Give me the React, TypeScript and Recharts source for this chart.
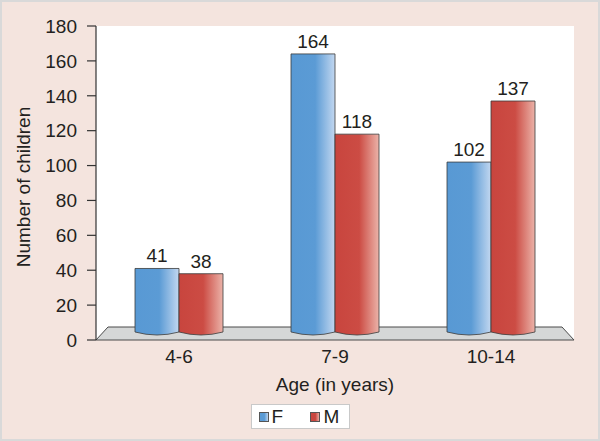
import React from "react";
import {
  Bar,
  BarChart,
  CartesianGrid,
  Customized,
  LabelList,
  Legend,
  XAxis,
  YAxis,
} from "recharts";

const ageGroups = ["4-6", "7-9", "10-14"];
const female = [41, 164, 102];
const male = [38, 118, 137];
const yTicks = [0, 20, 40, 60, 80, 100, 120, 140, 160, 180];

const data = ageGroups.map((age, i) => ({ age, F: female[i], M: male[i] }));

const FONT = '"Liberation Sans", Arial, Helvetica, sans-serif';
const FS = 19;
const INK = "#231f20";
const W = 596;
const H = 437;
const MARGIN = { top: 24, right: 24, left: 0, bottom: 39 };
const Y_W = 94;
const X_H = 60;
const PLOT_H = H - MARGIN.top - MARGIN.bottom - X_H;

// grey platform under the bars
function Floor() {
  const left = MARGIN.left + Y_W;
  const right = W - MARGIN.right;
  const bottom = MARGIN.top + PLOT_H;
  const top = bottom - 13;
  const pts = `${left},${bottom} ${left + 12},${top} ${right - 12},${top} ${right},${bottom}`;
  return <polygon points={pts} fill="#d5d7d7" stroke="#4a4a4a" strokeWidth={1} />;
}

function Cylinder(props: any) {
  const { x, y, width, height, fill } = props;
  if (!height) return null;
  const bottom = y + height - 8;
  const d = `M${x},${y} H${x + width} V${bottom} Q${x + width / 2},${bottom + 6} ${x},${bottom} Z`;
  return <path d={d} fill={fill} stroke="#3a3a3a" strokeWidth={0.8} />;
}

function YTitle() {
  const cx = 21;
  const cy = MARGIN.top + PLOT_H / 2 + 4;
  return (
    <text
      x={cx}
      y={cy}
      transform={`rotate(-90 ${cx} ${cy})`}
      textAnchor="middle"
      dominantBaseline="central"
      fontSize={FS}
      fontFamily={FONT}
      fill={INK}
    >
      Number of children
    </text>
  );
}

function LegendBox() {
  const sq = (c1: string, c2: string): React.CSSProperties => ({
    position: "absolute",
    top: 7,
    width: 10,
    height: 10,
    border: "1px solid #555",
    boxSizing: "border-box",
    background: `linear-gradient(to right, ${c1} 55%, ${c2})`,
  });
  const txt: React.CSSProperties = { position: "absolute", top: 2, fontSize: FS, lineHeight: "20px", color: INK };
  return (
    <div style={{ display: "flex", justifyContent: "center", fontFamily: FONT }}>
      <div
        style={{
          position: "relative",
          width: 99,
          height: 25,
          background: "#fff",
          border: "1px solid #c9c9c9",
          boxSizing: "border-box",
        }}
      >
        <div style={{ ...sq("#5a9bd5", "#bcd3ee"), left: 7 }} />
        <span style={{ ...txt, left: 20 }}>F</span>
        <div style={{ ...sq("#c9463f", "#e9aaa0"), left: 58 }} />
        <span style={{ ...txt, left: 72 }}>M</span>
      </div>
    </div>
  );
}

export default function App() {
  return (
    <div
      style={{
        position: "absolute",
        left: 0,
        top: 0,
        width: 600,
        height: 441,
        boxSizing: "border-box",
        border: "2px solid #d9d9d9",
        background: "#f4e4de",
        fontFamily: FONT,
      }}
    >
      <BarChart
        width={W}
        height={H}
        data={data}
        margin={MARGIN}
        barCategoryGap={34}
        barGap={0}
      >
        <defs>
          <linearGradient id="gradF" x1="0" y1="0" x2="1" y2="0">
            <stop offset="0%" stopColor="#5899d4" />
            <stop offset="55%" stopColor="#5b9bd5" />
            <stop offset="100%" stopColor="#c2d7f0" />
          </linearGradient>
          <linearGradient id="gradM" x1="0" y1="0" x2="1" y2="0">
            <stop offset="0%" stopColor="#c8453e" />
            <stop offset="55%" stopColor="#cc4c44" />
            <stop offset="100%" stopColor="#ebb3a9" />
          </linearGradient>
        </defs>
        <CartesianGrid fill="#ffffff" horizontal={false} vertical={false} stroke="none" />
        <Customized component={<Floor />} />
        <Customized component={<YTitle />} />
        <XAxis
          dataKey="age"
          height={X_H}
          padding={{ left: 5, right: 5 }}
          axisLine={false}
          tickLine={false}
          tickSize={0}
          tickMargin={10}
          tick={{ fontSize: FS, fill: INK, fontFamily: FONT }}
          label={{
            value: "Age (in years)",
            position: "insideTop",
            offset: 38,
            fontSize: FS,
            fill: INK,
            fontFamily: FONT,
          }}
        />
        <YAxis
          width={Y_W}
          domain={[0, 180]}
          ticks={yTicks}
          interval={0}
          axisLine={{ stroke: "#333", strokeWidth: 1.2 }}
          tickLine={{ stroke: "#333", strokeWidth: 1.2 }}
          tickSize={9}
          tickMargin={10}
          tick={{ fontSize: FS, fill: INK, fontFamily: FONT }}
        />
        <Legend
          layout="horizontal"
          verticalAlign="middle"
          align="center"
          wrapperStyle={{ top: 402, left: 0, width: W, height: 25 }}
          content={() => <LegendBox />}
        />
        <Bar dataKey="F" fill="url(#gradF)" shape={<Cylinder />} isAnimationActive={false}>
          <LabelList dataKey="F" position="top" offset={6} fontSize={FS} fill={INK} fontFamily={FONT} />
        </Bar>
        <Bar dataKey="M" fill="url(#gradM)" shape={<Cylinder />} isAnimationActive={false}>
          <LabelList dataKey="M" position="top" offset={6} fontSize={FS} fill={INK} fontFamily={FONT} />
        </Bar>
      </BarChart>
    </div>
  );
}
